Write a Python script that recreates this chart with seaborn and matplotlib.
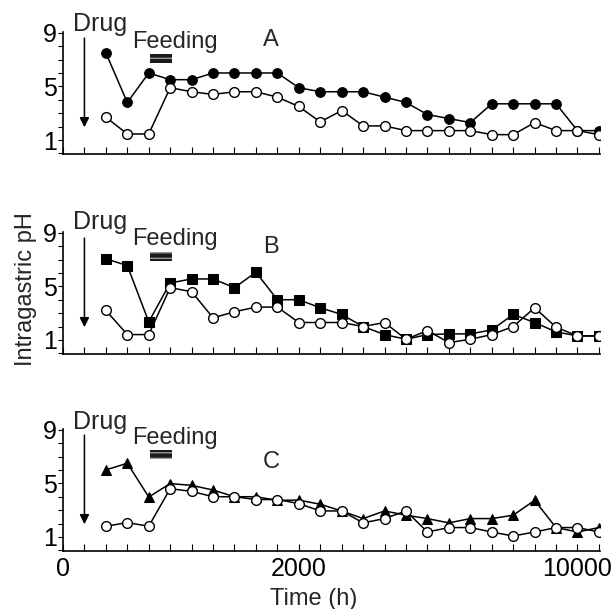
"""
Intragastric pH after drug dosing, three regimens (A, B, C) versus placebo.
"""

import matplotlib
matplotlib.use("Agg")
import matplotlib.pyplot as plt
import pandas as pd
import seaborn as sns
from matplotlib.patches import Rectangle

sns.set_theme(style="ticks")
plt.rcParams["font.family"] = ["Liberation Sans", "DejaVu Sans"]

# sampling slots (hour index after start), one value per slot
hours = list(range(2, 26))

ph_a_drug = [7.5, 3.8, 6.0, 5.5, 5.5, 6.0, 6.0, 6.0, 6.0, 4.9, 4.6, 4.6,
             4.6, 4.2, 3.8, 2.9, 2.6, 2.3, 3.7, 3.7, 3.7, 3.7, 1.7, 1.7]
ph_a_placebo = [2.7, 1.45, 1.45, 4.9, 4.6, 4.4, 4.6, 4.6, 4.2, 3.5, 2.35, 3.2,
                2.05, 2.05, 1.7, 1.7, 1.7, 1.7, 1.4, 1.4, 2.3, 1.7, 1.7, 1.4]

ph_b_drug = [7.05, 6.55, 2.35, 5.25, 5.55, 5.55, 4.9, 6.05, 4.0, 4.0, 3.4, 2.9,
             2.0, 1.4, 1.05, 1.4, 1.45, 1.45, 1.75, 2.9, 2.3, 1.6, 1.3, 1.3]
ph_b_placebo = [3.2, 1.4, 1.4, 4.9, 4.6, 2.65, 3.1, 3.45, 3.45, 2.3, 2.3, 2.3,
                2.0, 2.3, 1.05, 1.7, 0.8, 1.05, 1.4, 2.0, 3.4, 1.95, 1.3, 1.3]

ph_c_drug = [6.0, 6.5, 3.98, 4.98, 4.85, 4.5, 4.0, 4.0, 3.73, 3.75, 3.44, 2.94,
             2.37, 2.94, 2.62, 2.37, 2.05, 2.37, 2.37, 2.62, 3.73, 1.7, 1.37, 1.7]
ph_c_placebo = [1.8, 2.07, 1.8, 4.6, 4.4, 4.0, 4.0, 3.79, 3.79, 3.49, 2.94, 2.94,
                2.05, 2.37, 2.94, 1.37, 1.7, 1.7, 1.37, 1.07, 1.37, 1.7, 1.7, 1.37]

panel_labels = ["A", "B", "C"]
drug_markers = ["o", "s", "^"]
x_tick_pos = [0, 11, 24]
x_tick_labels = ["0", "2000", "10000"]

panels = [
    (ph_a_drug, ph_a_placebo),
    (ph_b_drug, ph_b_placebo),
    (ph_c_drug, ph_c_placebo),
]

fig = plt.figure(figsize=(6.14, 6.09), dpi=100)
bottoms = [0.747, 0.4187, 0.0952]

for i, ((drug, placebo), label, mk) in enumerate(zip(panels, panel_labels, drug_markers)):
    ax = fig.add_axes([0.1026, bottoms[i], 0.8746, 0.2003])
    df = pd.DataFrame({"hour": hours, "drug": drug, "placebo": placebo})

    msize = 7 if mk != "s" else 6.5
    sns.lineplot(data=df, x="hour", y="drug", marker=mk, color="black",
                 markersize=msize, markerfacecolor="black", markeredgecolor="black",
                 linewidth=1.1, ax=ax, sort=False)
    sns.lineplot(data=df, x="hour", y="placebo", marker="o", color="black",
                 markersize=7, markerfacecolor="white", markeredgecolor="black",
                 markeredgewidth=1.0, linewidth=1.1, ax=ax, sort=False)

    ax.set_xlim(0, 25.05)
    ax.set_ylim(-0.05, 9.05)
    sns.despine(ax=ax)
    for sp in ax.spines.values():
        sp.set_linewidth(1.2)
        sp.set_color("black")

    ax.set_yticks([1, 5, 9])
    ax.set_yticks([0, 2, 3, 4, 6, 7, 8], minor=True)
    ax.set_yticklabels(["1", "5", "9"], fontsize=18)
    ax.tick_params(axis="y", which="both", direction="out", length=3.5,
                   width=0.8, pad=1, colors="black")

    ax.set_xticks(x_tick_pos)
    ax.set_xticks(range(1, 26), minor=True)
    ax.tick_params(axis="x", which="both", direction="in", length=5,
                   width=0.8, colors="black")
    if i == 2:
        ax.set_xticklabels(x_tick_labels, fontsize=18)
        ax.tick_params(axis="x", which="major", pad=4)
    else:
        ax.set_xticklabels([])
    ax.set_xlabel("")
    ax.set_ylabel("")

    # annotations
    drug_y = [9.1, 9.25, 9.08][i]
    feed_y = [7.9, 8.1, 7.96][i]
    box_top = [7.4, 7.55, 7.5][i]
    lab_y = [8.0, 7.45, 6.17][i]
    ax.text(0.45, drug_y, "Drug", fontsize=18, ha="left", va="baseline",
            clip_on=False)
    ax.text(5.2, feed_y, "Feeding", fontsize=17, ha="center", va="baseline")
    ax.text(9.7, lab_y, label, fontsize=17, ha="center", va="baseline")
    ax.add_patch(Rectangle((4.05, box_top - 0.68), 1.05, 0.68,
                           facecolor="#1a1a1a", edgecolor="#999999",
                           hatch="---", linewidth=0))
    ax.annotate("", xy=(1.0, 1.95), xytext=(1.0, 8.6),
                arrowprops=dict(arrowstyle="-|>", color="black", lw=1.1,
                                mutation_scale=14, shrinkA=0, shrinkB=0))

fig.text(0.042, 1 - 289 / 609, "Intragastric pH", rotation=90,
         fontsize=17, ha="center", va="center")
fig.text(0.511, 0.006, "Time (h)", fontsize=17, ha="center", va="baseline")

fig.savefig("out.png", dpi=100)
